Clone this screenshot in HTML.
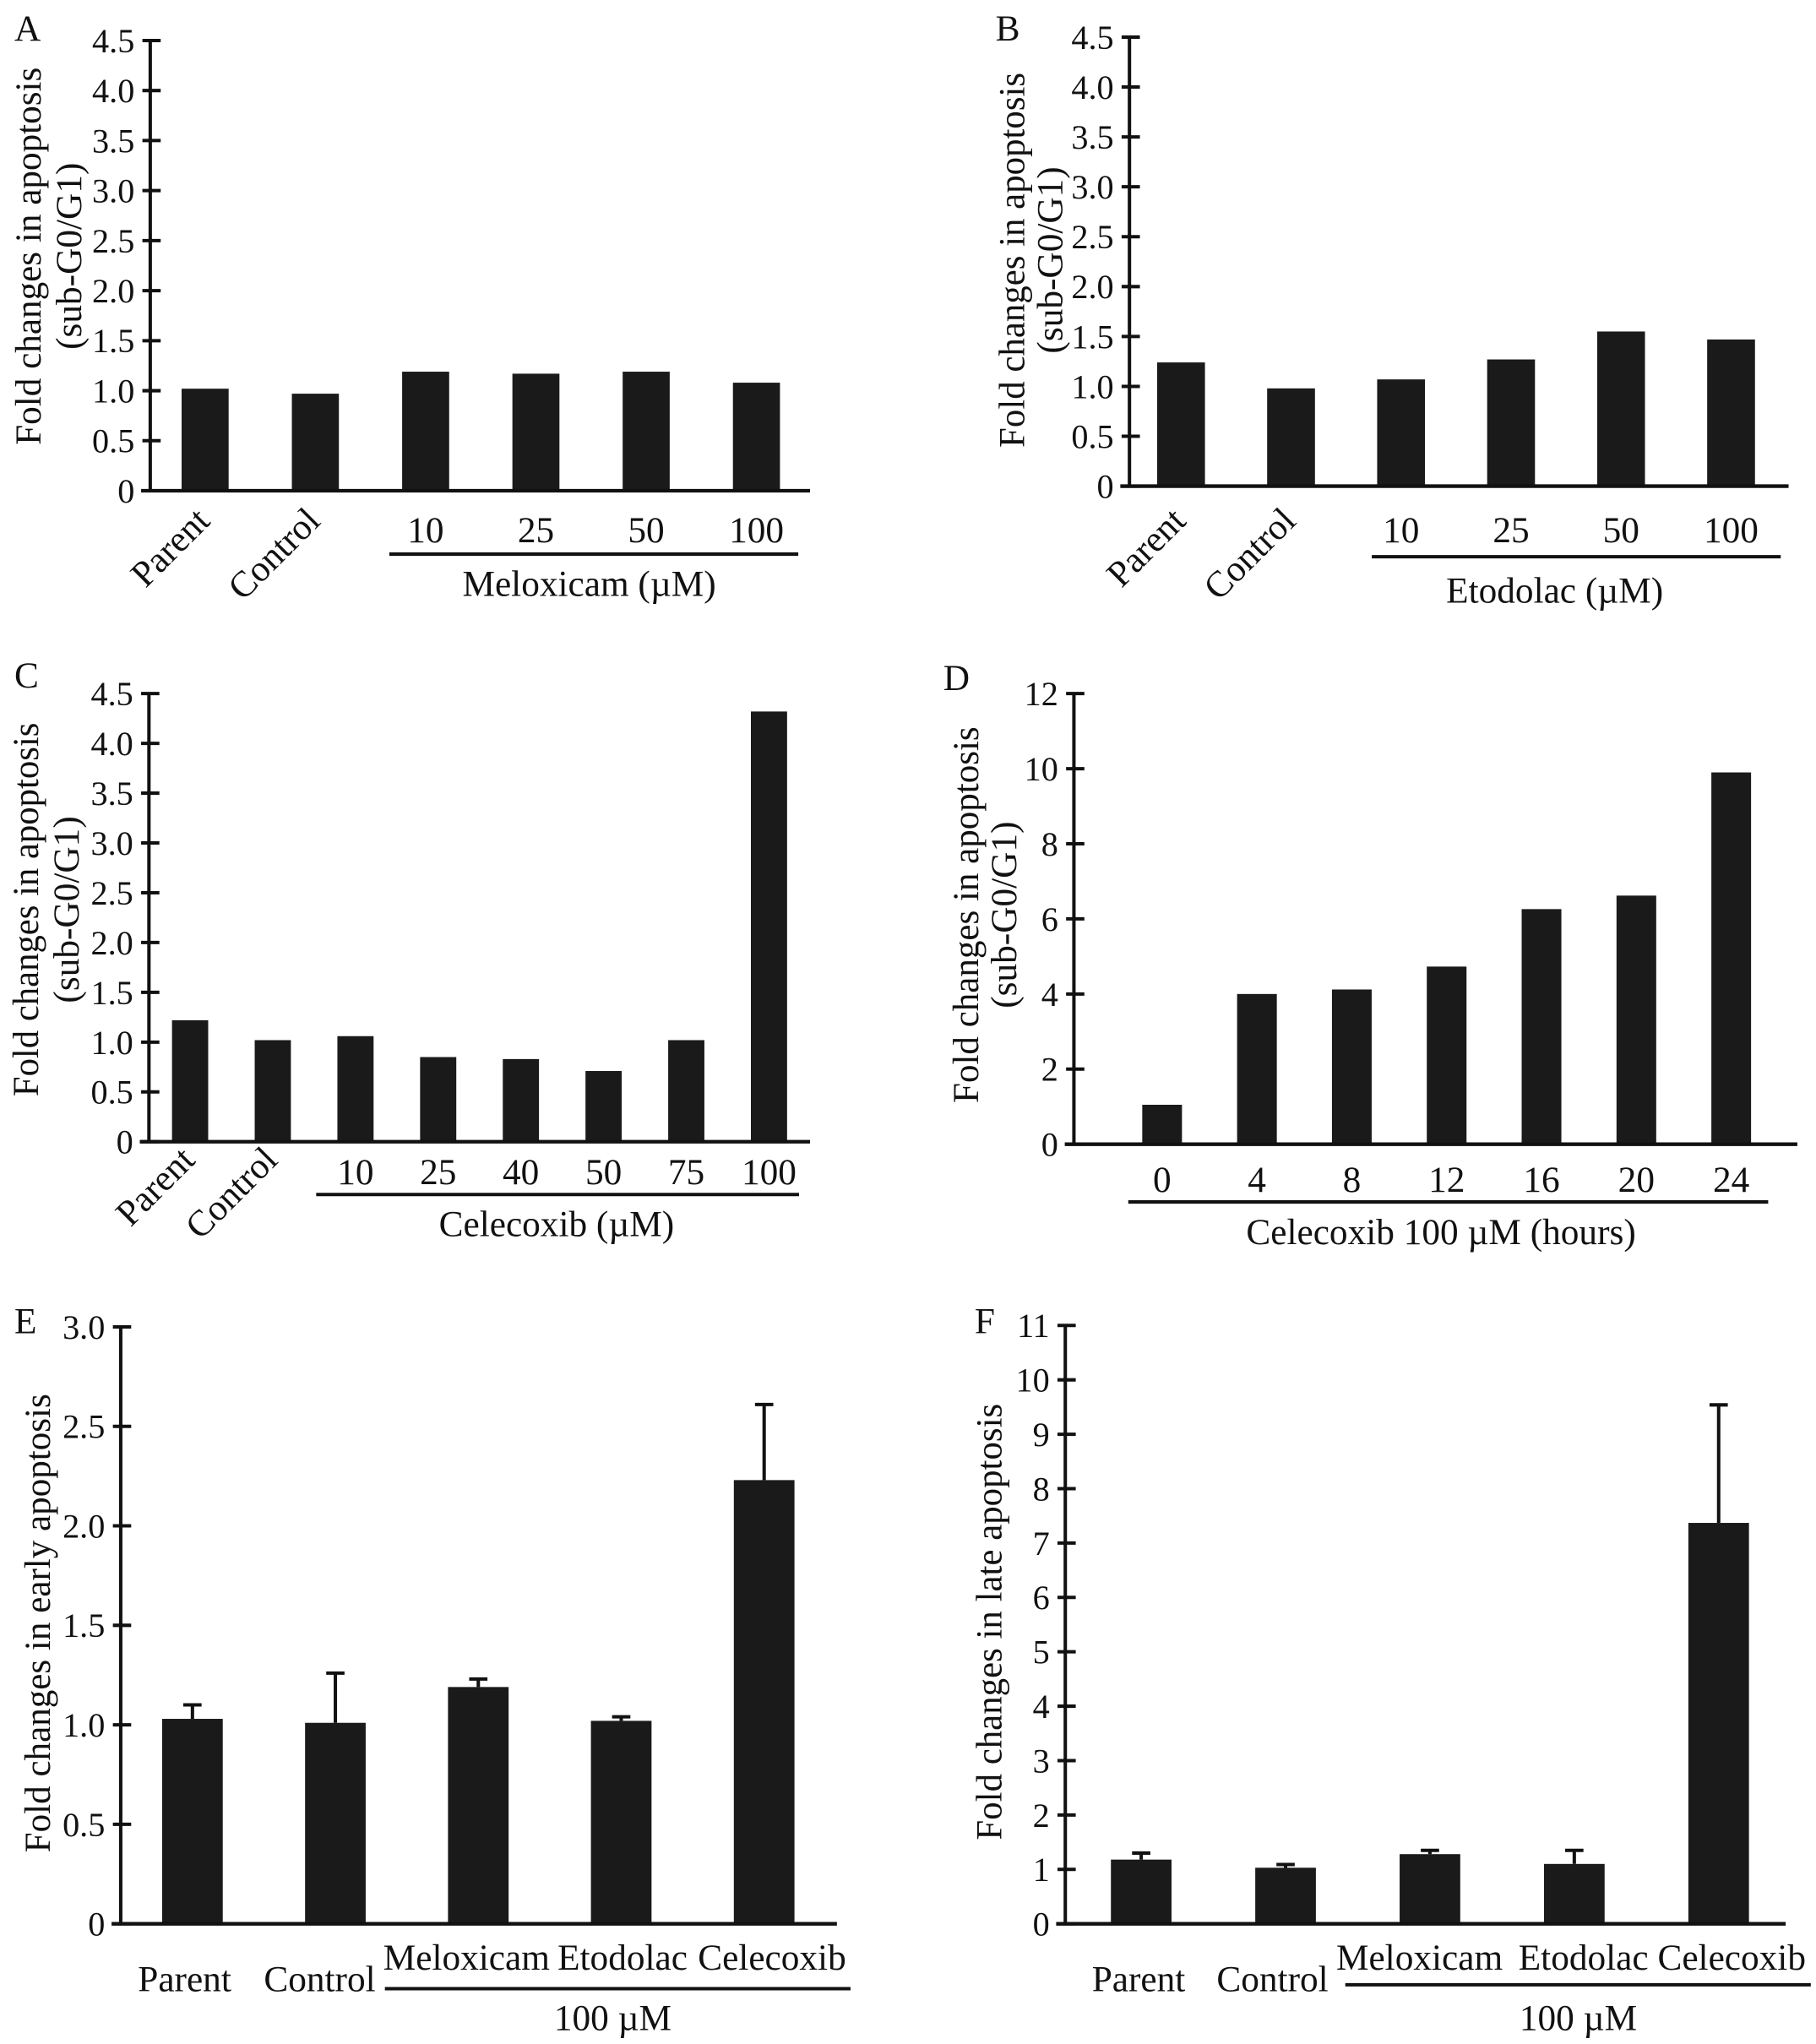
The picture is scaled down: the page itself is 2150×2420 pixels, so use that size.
<!DOCTYPE html>
<html>
<head>
<meta charset="utf-8">
<style>
  html,body{margin:0;padding:0;background:#fff;}
  svg{display:block;}
  text{font-family:"Liberation Serif",serif;fill:#111;}
</style>
</head>
<body>
<svg id="fig" xmlns="http://www.w3.org/2000/svg" width="2150" height="2420" viewBox="0 0 1390 1564" preserveAspectRatio="none">
  <rect x="0" y="0" width="1390" height="1564" fill="#fff"/>
</svg>
<script>
// ---------- DATA ----------
const aCats = ['Parent','Control','10','25','50','100'];
const aVals = [1.02,0.97,1.19,1.17,1.19,1.08];
const bCats = ['Parent','Control','10','25','50','100'];
const bVals = [1.24,0.98,1.07,1.27,1.55,1.47];
const cCats = ['Parent','Control','10','25','40','50','75','100'];
const cVals = [1.22,1.02,1.06,0.85,0.83,0.71,1.02,4.32];
const dCats = ['0','4','8','12','16','20','24'];
const dVals = [1.05,4.0,4.12,4.73,6.26,6.62,9.9];
const eCats = ['Parent','Control','Meloxicam','Etodolac','Celecoxib'];
const eVals = [1.03,1.01,1.19,1.02,2.23];
const eErr  = [0.07,0.25,0.04,0.02,0.38];
const fCats = ['Parent','Control','Meloxicam','Etodolac','Celecoxib'];
const fVals = [1.18,1.03,1.28,1.10,7.37];
const fErr  = [0.12,0.06,0.07,0.25,2.17];
const abcTicks = [0,0.5,1,1.5,2,2.5,3,3.5,4,4.5];
const abcTickLabels = ['0','0.5','1.0','1.5','2.0','2.5','3.0','3.5','4.0','4.5'];
const dTicks = [0,2,4,6,8,10,12];
const dTickLabels = ['0','2','4','6','8','10','12'];
const eTicks = [0,0.5,1,1.5,2,2.5,3];
const eTickLabels = ['0','0.5','1.0','1.5','2.0','2.5','3.0'];
const fTicks = [0,1,2,3,4,5,6,7,8,9,10,11];
const fTickLabels = ['0','1','2','3','4','5','6','7','8','9','10','11'];

// ---------- DRAWING ----------
const NS = 'http://www.w3.org/2000/svg';
const svg = document.getElementById('fig');
function mk(tag, attrs, parent){
  const el = document.createElementNS(NS, tag);
  for (const k in attrs) el.setAttribute(k, attrs[k]);
  (parent||svg).appendChild(el);
  return el;
}
function txt(parent, s, x, y, size, anchor){
  const t = mk('text', {x:x, y:y, 'font-size':size, 'text-anchor':anchor||'middle'}, parent);
  t.textContent = s;
  return t;
}

function drawPanel(p, cats, vals, errs, ticks, tickLabels){
  const g = mk('g', {});
  
  
  const yS = v => p.y0 - (v / p.max) * (p.y0 - p.yTop);
  const xS = i => p.c0 + i * p.step;

  const pl = txt(g, p.id, p.letterX, p.letterY, 28, 'start');
  
  

  const ya = mk('line', {x1:p.ax, y1:yS(p.max)-1, x2:p.ax, y2:p.y0+1, stroke:'#111', 'stroke-width':2.6}, g);
  
  
  ticks.forEach((t, i) => {
    const tk = mk('line', {x1:p.ax - 6, y1:yS(t), x2:p.ax + 8, y2:yS(t), stroke:'#111', 'stroke-width':2.6}, g);
    
    
    const tl = txt(g, tickLabels[i], p.ax - 12, yS(t) + 9, 26, 'end');
    
    
  });

  cats.forEach((c, i) => {
    const v = vals[i];
    const b = mk('rect', {x:xS(i) - p.bw/2, y:yS(v), width:p.bw, height:p.y0 - yS(v), fill:'#1a1a1a'}, g);
    
    
    if (errs) {
      const top = yS(v + errs[i]);
      const e = mk('path', {d:'M'+xS(i)+' '+yS(v)+' V'+top+' M'+(xS(i)-7)+' '+top+' H'+(xS(i)+7), stroke:'#111', 'stroke-width':2.6, fill:'none'}, g);
      
      
    }
  });

  const xa = mk('line', {x1:p.ax - 7, y1:p.y0, x2:p.xEnd, y2:p.y0, stroke:'#111', 'stroke-width':2.8}, g);
  
  

  cats.forEach((c, i) => {
    let t;
    if (p.mode === 'rot' && i < 2) {
      const ex = xS(i) + 5, ey = p.rotY;
      t = txt(g, c, ex, ey, 28, 'end');
      t.setAttribute('transform', 'rotate(-45 ' + ex + ' ' + ey + ')');
    } else if (p.mode === 'names') {
      const y = i < 2 ? p.nameY1 : p.nameY2;
      t = txt(g, c, xS(i) + p.labelDx[i], y, 28, 'middle');
    } else {
      t = txt(g, c, xS(i), p.numY, 28, 'middle');
    }
    
    
  });

  const ul = mk('line', {x1:p.ulX1, y1:p.ulY, x2:p.ulX2, y2:p.ulY, stroke:'#111', 'stroke-width':2.6}, g);
  
  
  const gt = txt(g, p.groupLabel, p.glX, p.glY, 28, 'middle');
  
  

  p.yTitle.forEach((line, k) => {
    const x = p.ytX[k], y = p.ytY;
    const t = txt(g, line, x, y, 28, 'middle');
    t.setAttribute('transform', 'rotate(-90 ' + x + ' ' + y + ')');
    t.setAttribute('dominant-baseline', 'central');
    if (k === 0) { t.setAttribute('textLength', p.ytLen); t.setAttribute('lengthAdjust', 'spacingAndGlyphs'); }
    
    
  });
}

const subTitle = ['Fold changes in apoptosis', '(sub-G0/G1)'];

drawPanel({id:'A', letterX:11, letterY:31, ax:115, xEnd:620, y0:375.5, yTop:31, max:4.5,
  c0:157, step:84.4, bw:36, mode:'rot', rotY:400, numY:415,
  ulX1:298, ulX2:611, ulY:424, groupLabel:'Meloxicam (\u00b5M)', glX:451, glY:456,
  yTitle:subTitle, ytX:[22,53], ytY:196, ytLen:289}, aCats, aVals, null, abcTicks, abcTickLabels);

drawPanel({id:'B', letterX:762, letterY:31, ax:864.5, xEnd:1369, y0:372, yTop:28.4, max:4.5,
  c0:904, step:84.2, bw:36.6, mode:'rot', rotY:400, numY:415,
  ulX1:1050, ulX2:1363, ulY:426, groupLabel:'Etodolac (\u00b5M)', glX:1190, glY:461,
  yTitle:subTitle, ytX:[775,804], ytY:199, ytLen:287}, bCats, bVals, null, abcTicks, abcTickLabels);

drawPanel({id:'C', letterX:11, letterY:526, ax:114, xEnd:620, y0:873.6, yTop:530.7, max:4.5,
  c0:145.5, step:63.3, bw:27.7, mode:'rot', rotY:889, numY:906,
  ulX1:242, ulX2:611.6, ulY:914, groupLabel:'Celecoxib (\u00b5M)', glX:426, glY:946,
  yTitle:subTitle, ytX:[20,51], ytY:696, ytLen:286}, cCats, cVals, null, abcTicks, abcTickLabels);

drawPanel({id:'D', letterX:722, letterY:528, ax:822, xEnd:1375.7, y0:875.5, yTop:530.7, max:12,
  c0:889.5, step:72.6, bw:30.4, mode:'num', numY:912,
  ulX1:863.6, ulX2:1353.4, ulY:919.7, groupLabel:'Celecoxib 100 \u00b5M (hours)', glX:1103, glY:952,
  yTitle:subTitle, ytX:[739.5,768.6], ytY:700, ytLen:288}, dCats, dVals, null, dTicks, dTickLabels);

drawPanel({id:'E', letterX:11, letterY:1020, ax:92.4, xEnd:640.6, y0:1472, yTop:1015.3, max:3,
  c0:147.3, step:109.4, bw:46.4, mode:'names', nameY1:1523.6, nameY2:1507,
  labelDx:[-6,-12,-9,1,6],
  ulX1:294.6, ulX2:651, ulY:1521.7, groupLabel:'100 \u00b5M', glX:469, glY:1553.4,
  yTitle:['Fold changes in early apoptosis'], ytX:[29], ytY:1242, ytLen:351}, eCats, eVals, eErr, eTicks, eTickLabels);

drawPanel({id:'F', letterX:746, letterY:1020, ax:815.4, xEnd:1366.8, y0:1472, yTop:1014.2, max:11,
  c0:873.5, step:110.5, bw:46.4, mode:'names', nameY1:1523.6, nameY2:1507,
  labelDx:[-2,-10,-8,7,10],
  ulX1:1029.7, ulX2:1386, ulY:1518.7, groupLabel:'100 \u00b5M', glX:1208, glY:1553.4,
  yTitle:['Fold changes in late apoptosis'], ytX:[757.4], ytY:1241, ytLen:334}, fCats, fVals, fErr, fTicks, fTickLabels);
</script>
</body>
</html>
